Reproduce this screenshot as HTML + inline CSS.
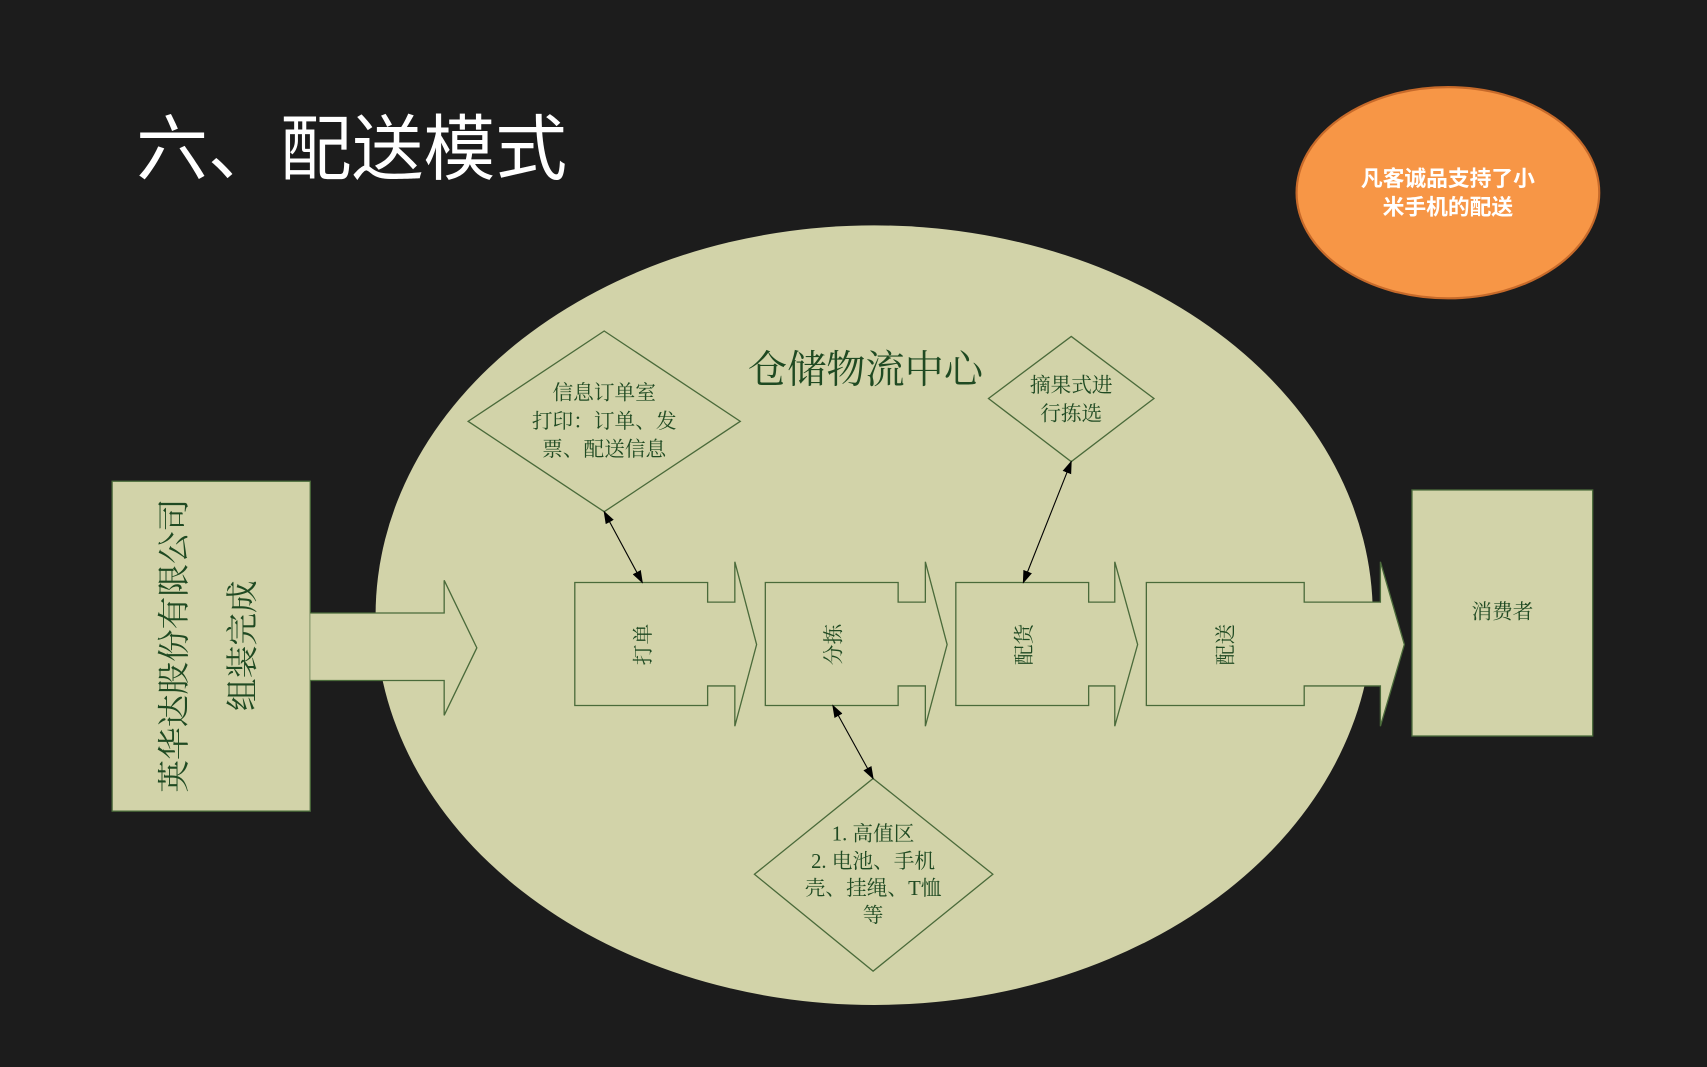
<!DOCTYPE html>
<html><head><meta charset="utf-8"><style>
html,body{margin:0;padding:0;background:#1c1c1c;}
svg{display:block;}
.t{font-family:"Liberation Serif","Noto Serif CJK SC",serif;fill:#1f4a22;}
</style></head><body>
<svg width="1707" height="1067" viewBox="0 0 1568 980" preserveAspectRatio="none" xmlns="http://www.w3.org/2000/svg">
<defs>
<marker id="a" viewBox="0 0 10 10" refX="9" refY="5" markerWidth="12" markerHeight="12" orient="auto-start-reverse"><path d="M0,1.5 L10,5 L0,8.5 z" fill="#000"/></marker>
</defs>
<rect width="1568" height="980" fill="#1c1c1c"/>
<text x="125" y="160" font-family="Liberation Sans,'Noto Sans CJK SC',sans-serif" font-size="66" fill="#fff">六、配送模式</text>
<ellipse cx="1330" cy="177" rx="139" ry="97" fill="#F79646" stroke="#c76a2a" stroke-width="2"/>
<g font-family="Liberation Sans,'Noto Sans CJK SC',sans-serif" font-size="20" font-weight="bold" fill="#fff" text-anchor="middle">
<text x="1330" y="171">凡客诚品支持了小</text>
<text x="1330" y="197">米手机的配送</text>
</g>
<ellipse cx="803" cy="565" rx="458" ry="358" fill="#D2D3A9"/>
<g fill="#D2D3A9" stroke="#4a6a3a" stroke-width="1.2">
<rect x="103" y="442" width="182" height="303"/>
<path d="M285,563 L408,563 L408,533 L438,595 L408,657 L408,625 L285,625" />
<rect x="1297" y="450" width="166" height="226"/>
<path d="M528,535 L650,535 L650,553 L675,553 L675,516 L695,592 L675,667 L675,630 L650,630 L650,648 L528,648 Z"/>
<path d="M703,535 L825,535 L825,553 L850,553 L850,516 L870,592 L850,667 L850,630 L825,630 L825,648 L703,648 Z"/>
<path d="M878,535 L1000,535 L1000,553 L1024,553 L1024,516 L1045,592 L1024,667 L1024,630 L1000,630 L1000,648 L878,648 Z"/>
<path d="M1053,535 L1198,535 L1198,553 L1268,553 L1268,516 L1290,592 L1268,667 L1268,630 L1198,630 L1198,648 L1053,648 Z"/>
<path d="M555,304 L680,387 L555,470 L430,387 Z"/>
<path d="M984,309 L1060,366 L984,424 L908,366 Z"/>
<path d="M802,715 L912,803 L802,892 L693,803 Z"/>
</g>
<g stroke="#000" stroke-width="1" marker-start="url(#a)" marker-end="url(#a)">
<line x1="555" y1="470" x2="590" y2="535"/>
<line x1="984" y1="424" x2="940" y2="535"/>
<line x1="765" y1="648" x2="802" y2="715"/>
</g>
<text class="t" x="795" y="352" font-size="36" text-anchor="middle">仓储物流中心</text>
<g class="t" font-size="19" text-anchor="middle">
<text x="555" y="367">信息订单室</text>
<text x="555" y="393">打印：订单、发</text>
<text x="555" y="419">票、配送信息</text>
<text x="984" y="360">摘果式进</text>
<text x="984" y="386">行拣选</text>
<text x="802" y="772">1. 高值区</text>
<text x="802" y="797">2. 电池、手机</text>
<text x="802" y="822">壳、挂绳、T恤</text>
<text x="802" y="847">等</text>
<text x="1380" y="568">消费者</text>
</g>
<g class="t" font-size="30" text-anchor="middle">
<text transform="translate(170,593) rotate(-90)">英华达股份有限公司</text>
<text transform="translate(233,593) rotate(-90)">组装完成</text>
</g>
<g class="t" font-size="19" text-anchor="middle">
<text transform="translate(597,592) rotate(-90)">打单</text>
<text transform="translate(772,592) rotate(-90)">分拣</text>
<text transform="translate(947,592) rotate(-90)">配货</text>
<text transform="translate(1132,592) rotate(-90)">配送</text>
</g>
</svg>
</body></html>
